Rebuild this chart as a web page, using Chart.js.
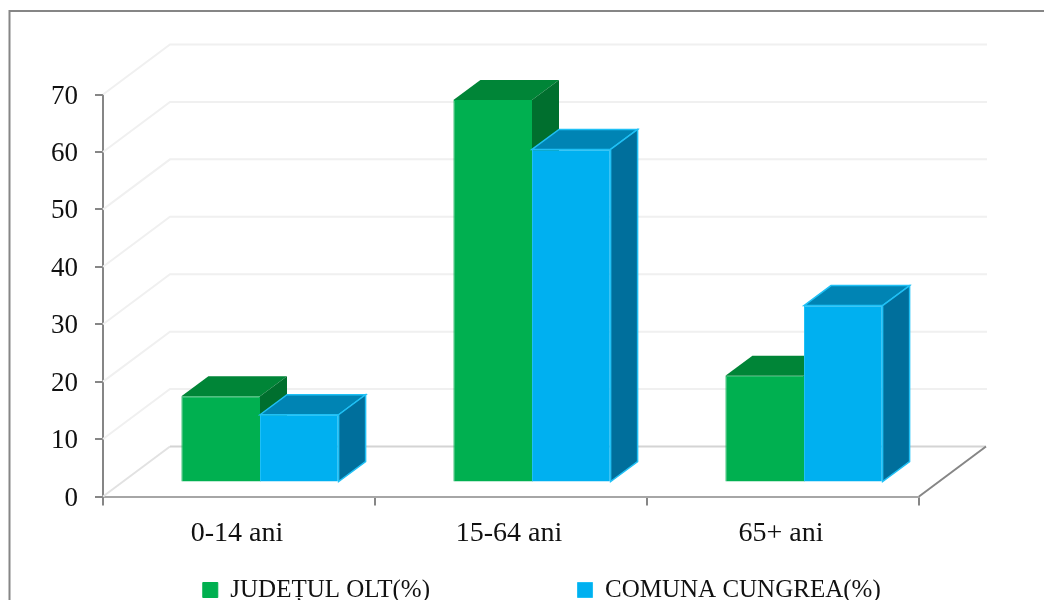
<!DOCTYPE html>
<html>
<head>
<meta charset="utf-8">
<style>
  html, body { margin: 0; background: #fff; overflow: hidden; }
  canvas { display: block; }
</style>
<script src="https://cdn.jsdelivr.net/npm/chart.js@4"></script>
</head>
<body>
<canvas id="myChart" width="1044" height="600"></canvas>
<script>
const categories = ['0-14 ani', '15-64 ani', '65+ ani']
const judetOlt = [15, 66.6, 18.6]
const comunaCungrea = [11.8, 58, 30.8]
const yTicks = [0, 10, 20, 30, 40, 50, 60, 70]

const fontName = '"Liberation Serif", serif'
const axisGrey = '#868686'

// fake 3d: the floor goes back by wallX/wallY, the bars by depthX/depthY
const wallX = 67
const wallY = 50
const depthX = 27
const depthY = 20
const barShiftX = 21
const barShiftY = -14

const faces = [
  { top: '#008537', side: '#006F2E', edge: null },
  { top: '#0084B4', side: '#006F9C', edge: '#1FC0F5' }
]

const fillFace = (ctx, points, color, edge) => {
  ctx.beginPath()
  points.forEach((p, i) => (i ? ctx.lineTo(p[0], p[1]) : ctx.moveTo(p[0], p[1])))
  ctx.closePath()
  ctx.fillStyle = color
  ctx.fill()
  if (edge) {
    ctx.strokeStyle = edge
    ctx.lineWidth = 1.5
    ctx.stroke()
  }
}

const wallsPlugin = {
  id: 'walls',
  beforeInit(chart) {
    // the legend spacing is only wanted sideways, so it takes no room in the layout
    const fit = chart.legend.fit
    chart.legend.fit = function () {
      this.maxWidth = 2000
      fit.call(this)
      this.height = 0
    }
  },
  afterLayout(chart) {
    chart.legend.left = 39.5
    chart.legend.right = 1044
    chart.legend.top = 430
  },
  beforeDatasetsDraw(chart) {
    const { ctx, chartArea, scales } = chart
    const { left, right, bottom } = chartArea
    ctx.save()
    // frame, the picture is cut off on the right and at the bottom
    ctx.strokeStyle = axisGrey
    ctx.lineWidth = 2
    ctx.beginPath()
    ctx.moveTo(9.5, 600)
    ctx.lineTo(9.5, 11)
    ctx.lineTo(1044, 11)
    ctx.stroke()
    // back and side walls
    yTicks.forEach(v => {
      if (v === 0) return
      const y = scales.y.getPixelForValue(v)
      ctx.strokeStyle = '#F0F0F0'
      ctx.beginPath()
      ctx.moveTo(left, y)
      ctx.lineTo(left + wallX, y - wallY)
      ctx.lineTo(right + wallX + 1, y - wallY)
      ctx.stroke()
    })
    // floor
    ctx.strokeStyle = '#E2E2E2'
    ctx.beginPath()
    ctx.moveTo(left, bottom)
    ctx.lineTo(left + wallX, bottom - wallY)
    ctx.stroke()
    ctx.strokeStyle = '#D4D4D4'
    ctx.beginPath()
    ctx.moveTo(left + wallX, bottom - wallY)
    ctx.lineTo(right + wallX, bottom - wallY)
    ctx.stroke()
    ctx.strokeStyle = axisGrey
    ctx.beginPath()
    ctx.moveTo(right, bottom)
    ctx.lineTo(right + wallX, bottom - wallY)
    ctx.stroke()
    ctx.restore()
  },
  // the first series has to lie under the second, chart.js would do it the other way round
  beforeDatasetDraw() {
    return false
  },
  afterDatasetsDraw(chart) {
    const ctx = chart.ctx
    ctx.save()
    ctx.translate(barShiftX, barShiftY)
    faces.forEach((face, index) => {
      const meta = chart.getDatasetMeta(index)
      meta.controller.draw()
      meta.data.forEach(bar => {
        const { x, y, base, width } = bar.getProps(['x', 'y', 'base', 'width'], true)
        const l = x - width / 2
        const r = x + width / 2
        fillFace(ctx, [[l, y], [l + depthX, y - depthY], [r + depthX, y - depthY], [r, y]], face.top, face.edge)
        fillFace(ctx, [[r, y], [r + depthX, y - depthY], [r + depthX, base - depthY], [r, base]], face.side, face.edge)
      })
    })
    ctx.restore()
  }
}

const config = {
  type: 'bar',
  data: {
    labels: categories,
    datasets: [
      {
        label: 'JUDEȚUL OLT(%)',
        data: judetOlt,
        backgroundColor: '#00B050',
        borderColor: '#00B050',
        borderWidth: 1
      },
      {
        label: 'COMUNA CUNGREA(%)',
        data: comunaCungrea,
        backgroundColor: '#00B0F0',
        borderColor: '#1FC0F5',
        borderWidth: 1
      }
    ]
  },
  options: {
    responsive: false,
    animation: false,
    devicePixelRatio: 1,
    categoryPercentage: 0.578,
    barPercentage: 1,
    layout: { padding: { left: 0, top: 94.5, right: 125, bottom: 0 } },
    plugins: {
      tooltip: { enabled: false },
      legend: {
        position: 'bottom',
        labels: {
          color: '#111',
          font: { family: fontName, size: 25 },
          boxWidth: 15,
          boxHeight: 15,
          padding: 147.5
        }
      }
    },
    scales: {
      x: {
        afterFit: s => { s.height = 103.5 },
        border: { color: '#A6A6A6', width: 2 },
        grid: { drawOnChartArea: false, color: axisGrey, lineWidth: 2, tickLength: 9 },
        ticks: { color: '#111', padding: 11, labelOffset: -2, maxRotation: 0, font: { family: fontName, size: 28 } }
      },
      y: {
        min: 0,
        max: 70,
        afterFit: s => { s.width = 103 },
        afterBuildTicks: s => { s.ticks = yTicks.map(v => ({ value: v })) },
        border: { color: axisGrey, width: 2 },
        grid: { drawOnChartArea: false, color: axisGrey, lineWidth: 2, tickLength: 8 },
        ticks: { color: '#111', padding: 17, labelOffset: 2, font: { family: fontName, size: 27 } }
      }
    }
  },
  plugins: [wallsPlugin]
}

new Chart(document.getElementById('myChart'), config)
</script>
</body>
</html>
